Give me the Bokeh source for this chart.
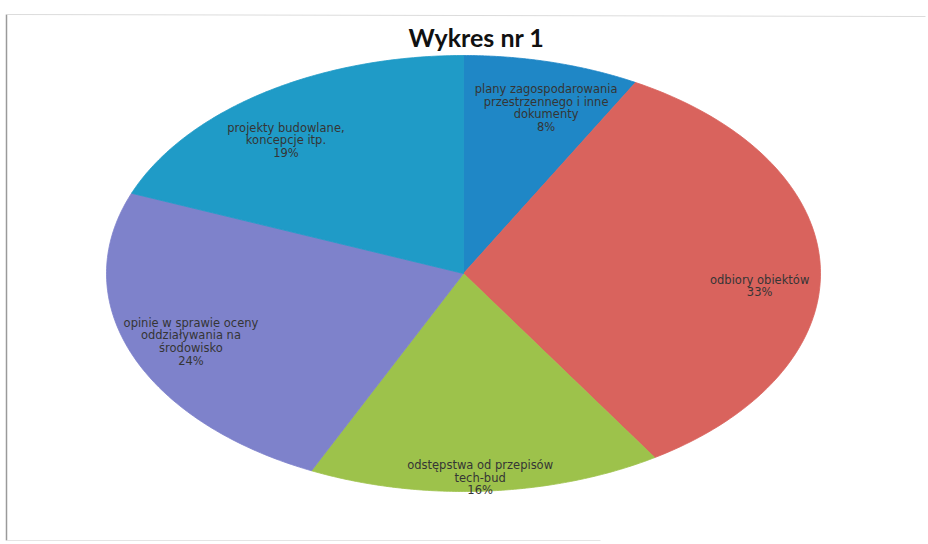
import numpy as np
from bokeh.plotting import figure
from bokeh.models import Range1d, ColumnDataSource
from bokeh.core.properties import value
from bokeh.embed import file_html
from bokeh.resources import INLINE

# ---- data ----
title_text = "Wykres nr 1"
categories = [
    "plany zagospodarowania\nprzestrzennego i inne\ndokumenty",
    "odbiory obiektów",
    "odstępstwa od przepisów\ntech-bud",
    "opinie w sprawie oceny\noddziaływania na\nśrodowisko",
    "projekty budowlane,\nkoncepcje itp.",
]
percents = [8, 33, 16, 24, 19]
colors = ["#1F87C6", "#D9635D", "#9DC24B", "#7E82CB", "#1F9BC7"]

# ---- layout (pixels, y downwards) ----
W, H = 928, 544
cx, cy = 463, 273
rx, ry = 357, 218
label_r = [0.84, 0.83, 0.92, 0.80, 0.80]
label_dx = [8, 0, -4, -7, -17]
label_dy = [12, 18, 4, 4, 11]

p = figure(width=W, height=H, output_backend="svg", toolbar_location=None,
           x_range=Range1d(0, W), y_range=Range1d(H, 0), min_border=0)
p.axis.visible = False
p.grid.visible = False
p.outline_line_color = None
p.background_fill_color = "white"
p.border_fill_color = "white"

# faint page frame
p.line(x=[6, 6], y=[14, 540], line_color="#9a9a9a", line_width=1.5)
p.line(x=[6, 925], y=[14, 16], line_color="#dcdcdc", line_width=1)
p.line(x=[6, 600], y=[540, 540], line_color="#e4e4e4", line_width=1)

vals = np.array(percents, dtype=float)
frac = vals / vals.sum()
ends = np.cumsum(frac) * 2 * np.pi
starts = ends - frac * 2 * np.pi

xs, ys = [], []
for a0, a1 in zip(starts, ends):
    t = np.linspace(a0, a1, 120)
    px = np.concatenate([[cx], cx + rx * np.sin(t)])
    py = np.concatenate([[cy], cy - ry * np.cos(t)])
    xs.append(list(px))
    ys.append(list(py))

src = ColumnDataSource(dict(xs=xs, ys=ys, color=colors))
p.patches("xs", "ys", source=src, fill_color="color", line_color="color", line_width=0.8)

mids = (starts + ends) / 2
lx = [cx + r * rx * np.sin(m) + d for r, m, d in zip(label_r, mids, label_dx)]
ly = [cy - r * ry * np.cos(m) + d for r, m, d in zip(label_r, mids, label_dy)]
labels = [f"{c}\n{v}%" for c, v in zip(categories, percents)]
lsrc = ColumnDataSource(dict(x=lx, y=ly, t=labels))
p.text("x", "y", text="t", source=lsrc, text_align="center", text_baseline="middle",
       text_font=value("DejaVu Sans"), text_font_size="11.5px", text_color="#353535",
       text_line_height=0.9)

p.text(x=[476], y=[36], text=[title_text], text_align="center", text_baseline="middle",
       text_font=value("Lato"), text_font_style="bold", text_font_size="25px",
       text_color="#111111")

open("out.html", "w").write(file_html(p, INLINE))
